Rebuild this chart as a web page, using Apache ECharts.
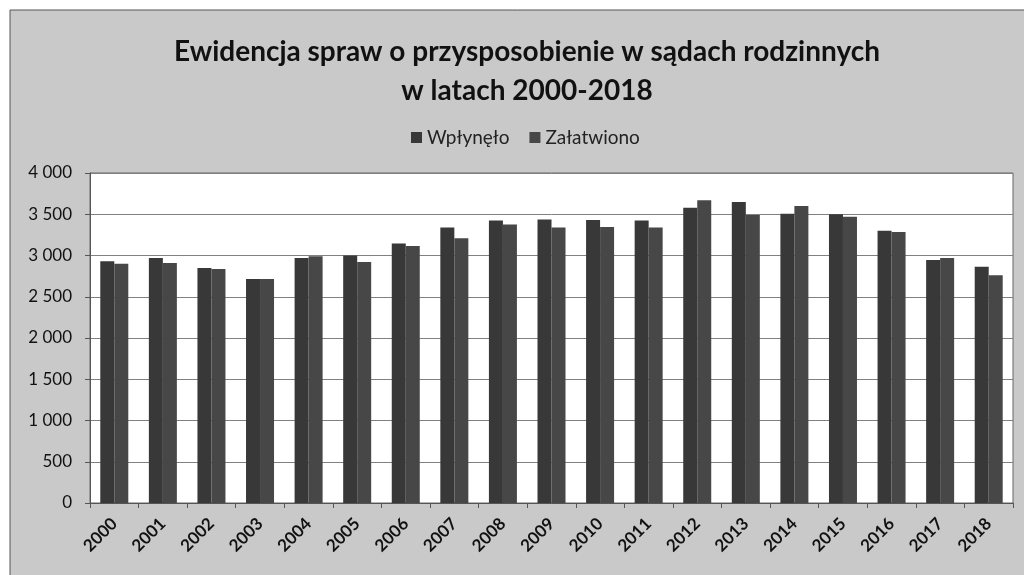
<!DOCTYPE html>
<html>
<head>
<meta charset="utf-8">
<script src="https://cdn.jsdelivr.net/npm/echarts@6/dist/echarts.min.js"></script>
<style>
html,body{margin:0;padding:0;background:#fff;}
#chart{width:1024px;height:575px;}
</style>
</head>
<body>
<div id="chart"></div>
<script>
const years = ['2000','2001','2002','2003','2004','2005','2006','2007','2008','2009','2010','2011','2012','2013','2014','2015','2016','2017','2018'];
const wplynelo = [2930,2970,2850,2715,2970,3000,3145,3340,3425,3435,3430,3425,3580,3650,3505,3500,3300,2945,2865];
const zalatwiono = [2900,2910,2835,2715,2990,2920,3115,3210,3375,3340,3345,3340,3670,3490,3600,3470,3285,2970,2760];
const yTicks = [0,500,1000,1500,2000,2500,3000,3500,4000];

const fmt = v => { const s = String(v); return s.length > 3 ? s.slice(0, s.length-3) + ' ' + s.slice(-3) : s; };

const chart = echarts.init(document.getElementById('chart'));
chart.setOption({
  backgroundColor: '#ffffff',
  animation: false,
  graphic: [{
    type: 'rect', z: -10, silent: true,
    shape: {x: 10, y: 10, width: 1020, height: 570},
    style: {fill: '#c9c9c9', stroke: '#555', lineWidth: 1}
  }],
  title: {
    text: 'Ewidencja spraw o przysposobienie w sądach rodzinnych\nw latach 2000-2018',
    left: 522, top: 27, textAlign: 'center',
    textStyle: {fontFamily: 'Lato', fontWeight: 'bold', fontSize: 28, color: '#111', lineHeight: 39}
  },
  legend: {
    data: ['Wpłynęło', 'Załatwiono'],
    left: 406, top: 123,
    itemWidth: 11, itemHeight: 11, itemGap: 20,
    textStyle: {fontFamily: 'Lato', fontSize: 19, color: '#222'},
    icon: 'rect'
  },
  grid: {
    left: 90, right: 11, top: 173, bottom: 72,
    show: true, backgroundColor: '#ffffff', borderColor: '#666', borderWidth: 1
  },
  xAxis: {
    type: 'category', data: years,
    axisLine: {lineStyle: {color: '#555'}},
    axisTick: {show: true, length: 5, lineStyle: {color: '#555'}},
    axisLabel: {rotate: 45, fontFamily: 'Lato', fontWeight: 'bold', fontSize: 17, color: '#111', margin: 18}
  },
  yAxis: {
    type: 'value', min: 0, max: 4000, interval: 500,
    axisLine: {show: true, lineStyle: {color: '#555'}},
    axisTick: {show: true, length: 5, lineStyle: {color: '#555'}},
    splitLine: {lineStyle: {color: '#808080', width: 1}},
    axisLabel: {fontFamily: 'Lato', fontSize: 17, color: '#111', margin: 18, formatter: v => yTicks.includes(v) ? fmt(v) : ''}
  },
  series: [
    {name: 'Wpłynęło', type: 'bar', data: wplynelo, barWidth: 14, barGap: '0%', itemStyle: {color: '#383838'}},
    {name: 'Załatwiono', type: 'bar', data: zalatwiono, barWidth: 14, barGap: '0%', itemStyle: {color: '#474747'}}
  ]
});
</script>
</body>
</html>
